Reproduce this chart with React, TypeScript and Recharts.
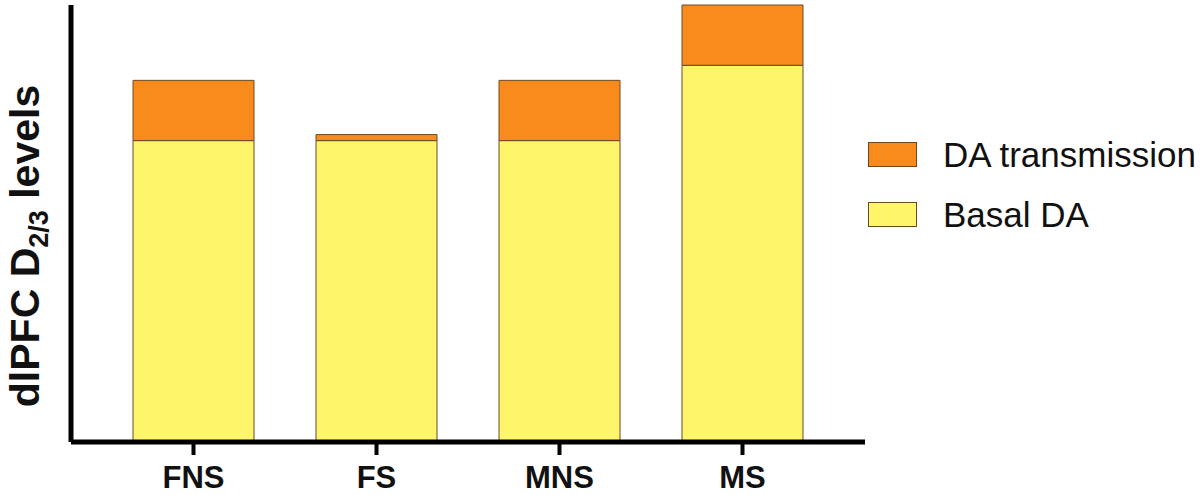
import React from "react";
import { BarChart, Bar, XAxis, YAxis, Label } from "recharts";

const categories = ["FNS", "FS", "MNS", "MS"];
const basalDA = [1.0, 1.0, 1.0, 1.25];
const daTransmission = [0.2, 0.02, 0.2, 0.2];
const seriesNames = ["Basal DA", "DA transmission"];

const data = categories.map((c, i) => ({
  name: c,
  basal: basalDA[i],
  trans: daTransmission[i],
}));

const ORANGE = "#F98B1D";
const YELLOW = "#FFF56B";
const EDGE = "#6a4a22";

const FONT = "'Liberation Sans', Arial, Helvetica, sans-serif";

const YLabel = () => {
  const x = 39;
  const y = 246;
  return (
    <text
      x={x}
      y={y}
      transform={`rotate(-90, ${x}, ${y})`}
      textAnchor="middle"
      fontFamily={FONT}
      fontWeight="bold"
      fontSize={41}
      fill="#111"
    >
      <tspan>dlPFC D</tspan>
      <tspan fontSize={27} dy={9}>2/3</tspan>
      <tspan dy={-9}> levels</tspan>
    </text>
  );
};

const LegendBox = () => {
  const items = [
    { name: seriesNames[1], color: ORANGE },
    { name: seriesNames[0], color: YELLOW },
  ];
  return (
    <div style={{ position: "absolute", left: 868, top: 142, fontFamily: FONT }}>
      {items.map((it, i) => (
        <div
          key={it.name}
          style={{ display: "flex", alignItems: "center", height: 25, marginBottom: i === 0 ? 35 : 0 }}
        >
          <div
            style={{
              width: 47,
              height: 23,
              background: it.color,
              border: `1px solid ${EDGE}`,
              marginRight: 26,
              flexShrink: 0,
            }}
          />
          <span style={{ fontSize: 35, color: "#111", whiteSpace: "nowrap" }}>{it.name}</span>
        </div>
      ))}
    </div>
  );
};

export default function App() {
  return (
    <div style={{ position: "absolute", left: 0, top: 0, width: 1200, height: 495, background: "#fff" }}>
      <BarChart
        width={1200}
        height={495}
        data={data}
        margin={{ top: 5, right: 335, left: 0, bottom: 3 }}
        barSize={121}
      >
        <XAxis
          dataKey="name"
          padding={{ left: 31, right: 31 }}
          axisLine={{ stroke: "#000", strokeWidth: 5 }}
          tickLine={{ stroke: "#000", strokeWidth: 4 }}
          tickSize={13}
          tickMargin={11}
          height={50}
          tick={{ fontFamily: FONT, fontWeight: "bold", fontSize: 31, fill: "#111" }}
        />
        <YAxis
          width={71}
          domain={[0, 1.45]}
          tick={false}
          tickLine={false}
          axisLine={{ stroke: "#000", strokeWidth: 5 }}
        >
          <Label content={<YLabel />} />
        </YAxis>
        <Bar dataKey="basal" stackId="a" fill={YELLOW} stroke={EDGE} strokeWidth={1} isAnimationActive={false} />
        <Bar dataKey="trans" stackId="a" fill={ORANGE} stroke={EDGE} strokeWidth={1} isAnimationActive={false} />
      </BarChart>
      <LegendBox />
    </div>
  );
}
